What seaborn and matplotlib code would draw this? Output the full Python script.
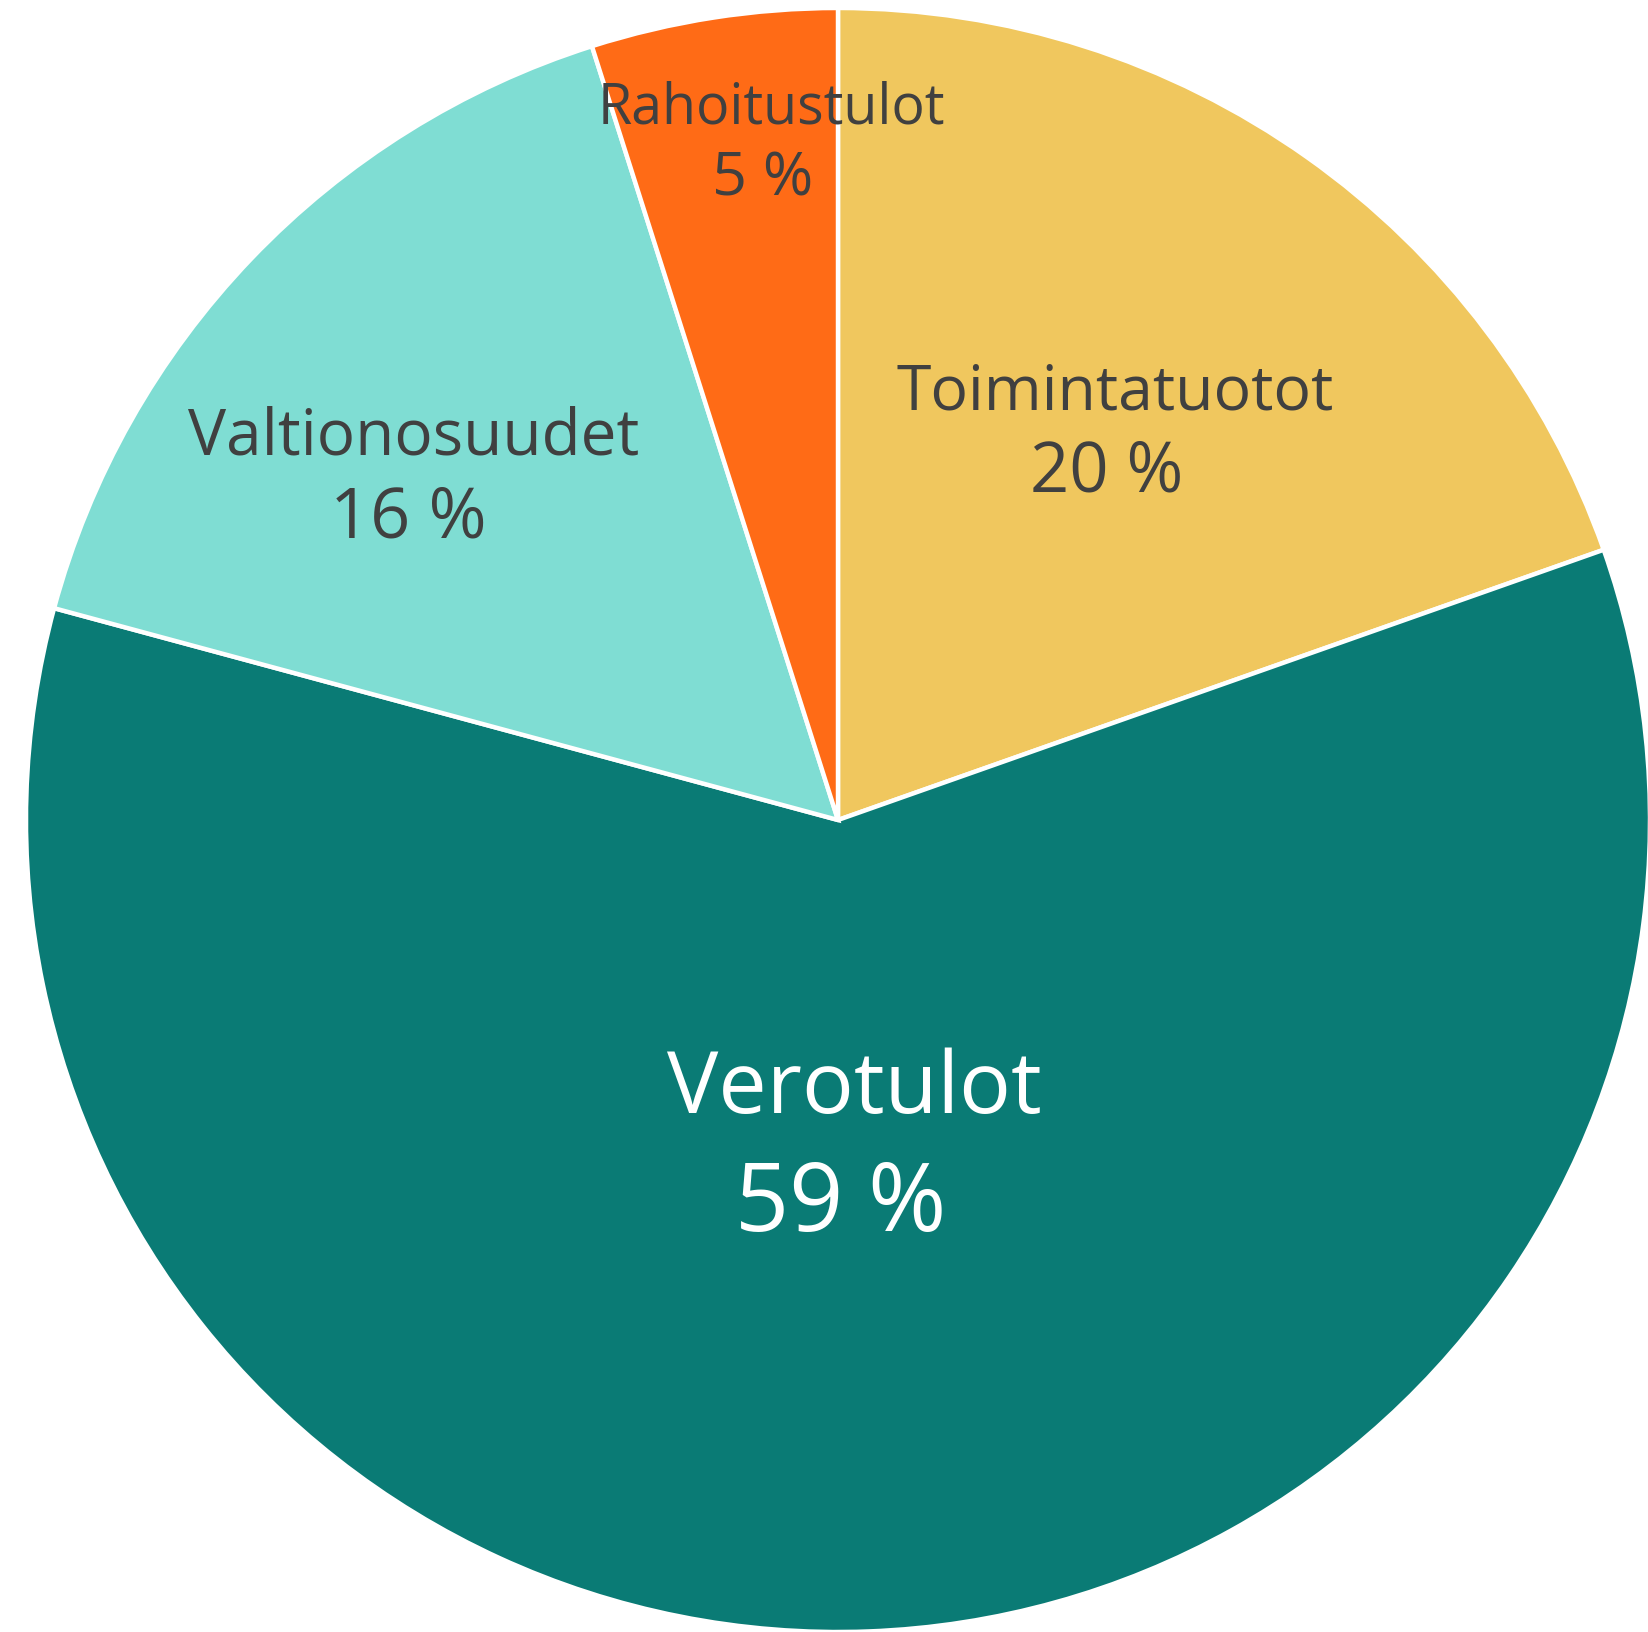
import matplotlib
matplotlib.use("Agg")
import matplotlib.pyplot as plt
import seaborn as sns

# tuloslaskelman tulojen jakauma (%)
categories = ["Toimintatuotot", "Verotulot", "Valtionosuudet", "Rahoitustulot"]
values = [19.6, 59.6, 15.9, 4.9]
pct_labels = ["20 %", "59 %", "16 %", "5 %"]
colors = ["#F0C75E", "#0A7B75", "#7FDDD3", "#FF6B16"]

sns.set_theme(style="white")
plt.rcParams["font.family"] = ["Open Sans", "DejaVu Sans"]

fig = plt.figure(figsize=(16.49, 16.32), dpi=100)
ax = fig.add_axes([0, 0, 1, 1])

wedges, _ = ax.pie(values, colors=sns.color_palette(colors), startangle=90,
                   counterclock=False, radius=1,
                   wedgeprops=dict(edgecolor="white", linewidth=3.2))

# pikselit -> data (keskipiste 838,820 ja säde 812 px)
ax.set_xlim(-838 / 812, (1649 - 838) / 812)
ax.set_ylim(-(1632 - 820) / 812, 820 / 812)
ax.set_aspect("auto")
ax.axis("off")

def px(x, y):
    return (x - 838) / 812, (820 - y) / 812

# tekstien paikat ja koot
label_style = {
    "Toimintatuotot": dict(pos=(1115, 393), pos2=(1107, 473), size=45, color="#404040"),
    "Verotulot": dict(pos=(854, 1091), pos2=(841, 1206), size=62, color="white"),
    "Valtionosuudet": dict(pos=(414, 437), pos2=(408, 519), size=46, color="#404040"),
    "Rahoitustulot": dict(pos=(771, 109), pos2=(763, 179), size=40, color="#404040"),
}

for name, pct in zip(categories, pct_labels):
    st = label_style[name]
    ax.text(*px(*st["pos"]), name, ha="center", va="center",
            fontsize=st["size"], color=st["color"])
    ax.text(*px(*st["pos2"]), pct, ha="center", va="center",
            fontsize=st["size"] * 1.1, color=st["color"])

fig.savefig("out.png", dpi=100)
